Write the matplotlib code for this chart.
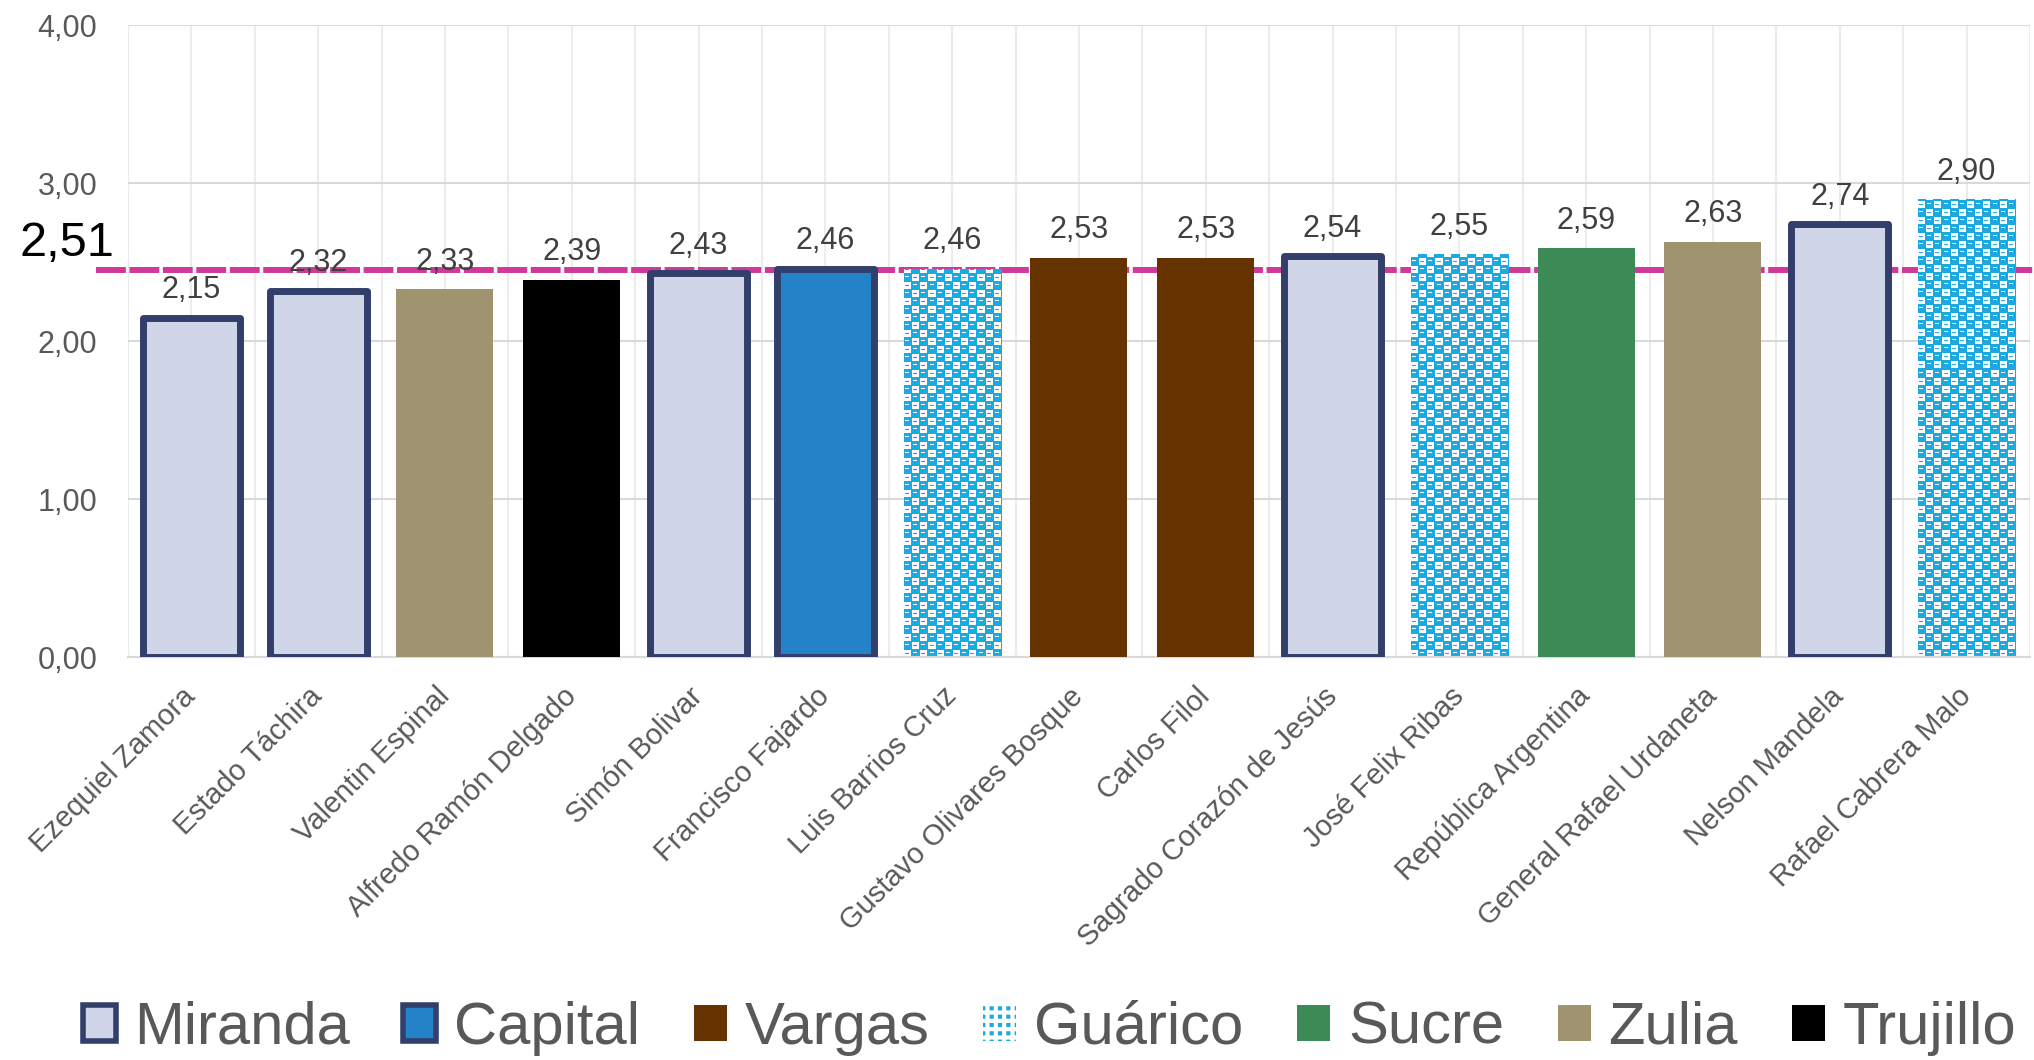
import numpy as np
import matplotlib
matplotlib.use("Agg")
import matplotlib.pyplot as plt
from matplotlib.patches import Patch

plt.rcParams['font.family'] = ['Liberation Sans', 'DejaVu Sans']
plt.rcParams['hatch.linewidth'] = 3

# DATA
municipios = ["Ezequiel Zamora", "Estado Táchira", "Valentin Espinal", "Alfredo Ramón Delgado",
              "Simón Bolivar", "Francisco Fajardo", "Luis Barrios Cruz", "Gustavo Olivares Bosque",
              "Carlos Filol", "Sagrado Corazón de Jesús", "José Felix Ribas", "República Argentina",
              "General Rafael Urdaneta", "Nelson Mandela", "Rafael Cabrera Malo"]
valores = [2.15, 2.32, 2.33, 2.39, 2.43, 2.46, 2.46, 2.53, 2.53, 2.54, 2.55, 2.59, 2.63, 2.74, 2.90]
estados = ["Miranda", "Miranda", "Zulia", "Trujillo", "Miranda", "Capital", "Guárico", "Vargas",
           "Vargas", "Miranda", "Guárico", "Sucre", "Zulia", "Miranda", "Guárico"]
promedio_texto = "2,51"
promedio_linea = 2.45

orden_leyenda = ["Miranda", "Capital", "Vargas", "Guárico", "Sucre", "Zulia", "Trujillo"]

# STYLE
BORDE = "#333F6B"
relleno = {"Miranda": "#D0D5E8", "Capital": "#2382C8", "Vargas": "#663300", "Guárico": "#1CA9E1",
           "Sucre": "#3C8A55", "Zulia": "#A09470", "Trujillo": "#000000"}
con_borde = {"Miranda", "Capital"}
ancho = 0.765

# 16x16 pixel tile for the checker fill (1 = blue, 0 = white)
tile = np.ones((16, 16))
tile[0:7, 0:7] = 0
tile[8:15, 8:15] = 0
tile[11, 9:13] = 1
tile[3, 1:5] = 1
tile[12, 1:5] = 0
tile[4, 9:13] = 0


def fmt(v):
    return f"{v:.2f}".replace(".", ",")


fig = plt.figure(figsize=(20.34, 10.6), dpi=100)
ax = fig.add_axes([0.0629, 0.380, 0.9351, 0.596])

x = np.arange(len(valores))
px_x = ancho / 96          # one screen pixel in x data units (bar is ~96 px wide)
px_y = 4.0 / 632           # one screen pixel in y data units

for i, (v, est) in enumerate(zip(valores, estados)):
    if est == "Guárico":
        bar = ax.bar(i, v, width=ancho, facecolor="none", linewidth=0, zorder=3)[0]
        rows = int(np.ceil(v / px_y))
        reps = (rows // 16 + 1, 6)
        checker = np.tile(tile, reps)[:rows, :96]
        cmap = matplotlib.colors.ListedColormap(["white", relleno[est]])
        im = ax.imshow(checker, cmap=cmap, extent=[i - ancho / 2, i + ancho / 2, 0, rows * px_y],
                       origin="lower", aspect="auto", interpolation="nearest", zorder=2.5)
        im.set_clip_path(bar)
    elif est in con_borde:
        bar = ax.bar(i, v, width=ancho, facecolor=relleno[est], edgecolor=BORDE,
                     linewidth=5, zorder=3)[0]
        bar.set_joinstyle("round")
    else:
        ax.bar(i, v, width=ancho, facecolor=relleno[est], linewidth=0, zorder=3)

    ax.annotate(fmt(v), (i, v), xytext=(0, 9), textcoords="offset points",
                ha="center", va="bottom", fontsize=22, color="#404040", zorder=5)

# average line
ax.axhline(promedio_linea, xmin=-0.017, xmax=1.01, color="#CF3A98", linewidth=4.3,
           dashes=(5, 0.6), clip_on=False, zorder=1.5)
ax.text(-0.032, 2.62, promedio_texto, transform=ax.get_yaxis_transform(),
        ha="center", va="center", fontsize=35, color="black")

ax.set_xlim(-0.5, len(valores) - 0.5)
ax.set_ylim(0, 4)
ax.set_yticks([0, 1, 2, 3, 4])
ax.set_yticklabels([fmt(t) for t in [0, 1, 2, 3, 4]])
ax.set_xticks(x)
ax.set_xticklabels(municipios, rotation=45, ha="right", va="center", rotation_mode="anchor")
ax.set_xticks(np.arange(-0.5, len(valores), 1.0), minor=True)

ax.tick_params(axis="y", length=0, pad=22, labelsize=22, labelcolor="#595959")
ax.tick_params(axis="x", which="both", length=0, pad=25, labelsize=21, labelcolor="#595959")

ax.grid(True, axis="y", color="#D9D9D9", linewidth=1.5, zorder=0)
ax.grid(True, axis="x", which="both", color="#ECECEC", linewidth=1.5, zorder=0)
ax.set_axisbelow(True)
for s in ["top", "right", "left"]:
    ax.spines[s].set_visible(False)
ax.spines["bottom"].set_color("#D9D9D9")
ax.spines["bottom"].set_linewidth(1.5)

# LEGEND
handles = []
for est in orden_leyenda:
    if est == "Guárico":
        handles.append(Patch(facecolor=relleno[est], edgecolor="white", hatch="++", linewidth=0, label=est))
    elif est in con_borde:
        handles.append(Patch(facecolor=relleno[est], edgecolor=BORDE, linewidth=4, label=est))
    else:
        handles.append(Patch(facecolor=relleno[est], linewidth=0, label=est))

leg = fig.legend(handles=handles, loc="center", bbox_to_anchor=(0.516, 0.03), ncol=7,
                 frameon=False, fontsize=43, handlelength=0.55, handleheight=0.55,
                 handletextpad=0.3, columnspacing=0.9, borderaxespad=0)
for t in leg.get_texts():
    t.set_color("#595959")

fig.savefig("out.png", dpi=100)
